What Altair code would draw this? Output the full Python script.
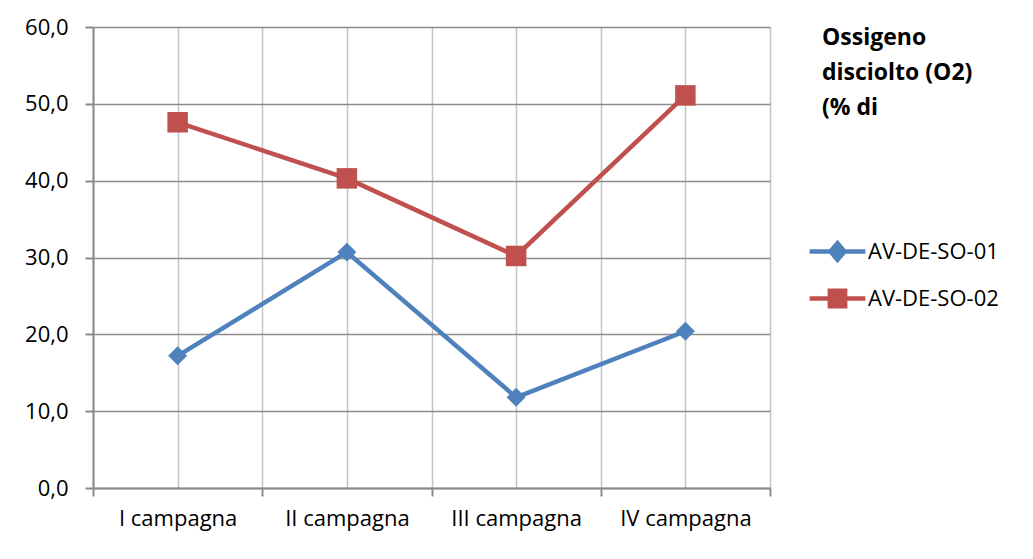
import altair as alt
import pandas as pd

categories = ["I campagna", "II campagna", "III campagna", "IV campagna"]
series_names = ["AV-DE-SO-01", "AV-DE-SO-02"]
so01 = [17.2, 30.7, 11.8, 20.4]
so02 = [47.6, 40.3, 30.2, 51.1]
y_ticks = [0, 10, 20, 30, 40, 50, 60]
legend_title = ["Ossigeno", "disciolto (O2)", "(% di"]
colors = ["#4F81BD", "#C0504D"]

rows = []
for i, c in enumerate(categories):
    rows.append({"pos": i + 1, "cat": c, "series": series_names[0], "value": so01[i]})
    rows.append({"pos": i + 1, "cat": c, "series": series_names[1], "value": so02[i]})
df = pd.DataFrame(rows)

x_values = [0.5 + 0.5 * k for k in range(2 * len(categories) + 1)]
label_expr = ""
for i, c in enumerate(categories):
    label_expr += f"datum.value == {i + 1} ? '{c}' : "
label_expr += "''"

# legend symbols: line segment with marker
diamond_path = ("M-1.24,-0.1 L-0.36,-0.1 L0,-0.52 L0.36,-0.1 L1.24,-0.1 "
                "L1.24,0.1 L0.36,0.1 L0,0.52 L-0.36,0.1 L-1.24,0.1 Z")
square_path = ("M-1.24,-0.1 L-0.44,-0.1 L-0.44,-0.44 L0.44,-0.44 L0.44,-0.1 "
               "L1.24,-0.1 L1.24,0.1 L0.44,0.1 L0.44,0.44 L-0.44,0.44 "
               "L-0.44,0.1 L-1.24,0.1 Z")

x_enc = alt.X(
    "pos:Q",
    scale=alt.Scale(domain=[0.5, 4.5], nice=False, zero=False),
    axis=alt.Axis(
        values=x_values,
        labelExpr=label_expr,
        title=None,
        grid=True,
        gridColor="#c4c4c4",
        gridWidth=1.5,
        domainColor="#8a8a8a",
        domainWidth=2,
        tickColor="#8a8a8a",
        tickWidth=2,
        tickSize=8,
        tickOpacity={"condition": {"test": "datum.value % 1 !== 0", "value": 1}, "value": 0},
        labelOverlap=False,
        labelFlush=False,
        labelPadding=12,
        labelFontSize=22,
        labelColor="#000000",
    ),
)
y_enc = alt.Y(
    "value:Q",
    scale=alt.Scale(domain=[0, 60], nice=False),
    axis=alt.Axis(
        values=y_ticks,
        format=".1f",
        labelExpr="replace(datum.label, '.', ',')",
        title=None,
        grid=True,
        gridColor="#8c8c8c",
        gridWidth=1.5,
        domainColor="#8a8a8a",
        domainWidth=2,
        tickColor="#8a8a8a",
        tickWidth=2,
        tickSize=8,
        labelPadding=17,
        labelFontSize=22,
        labelColor="#000000",
    ),
)
color_scale = alt.Scale(domain=series_names, range=colors)

base = alt.Chart(df)

lines = base.mark_line(strokeWidth=4.5).encode(
    x=x_enc, y=y_enc,
    color=alt.Color("series:N", scale=color_scale, legend=None),
    detail="series:N",
)

diamonds = base.transform_filter(
    alt.datum.series == series_names[0]
).mark_point(shape="diamond", filled=True, size=360, opacity=1).encode(
    x="pos:Q", y="value:Q",
    color=alt.Color("series:N", scale=color_scale, legend=None),
)

squares = base.transform_filter(
    alt.datum.series == series_names[1]
).mark_point(shape="square", filled=True, size=420, opacity=1).encode(
    x="pos:Q", y="value:Q",
    color=alt.Color("series:N", scale=color_scale, legend=None),
)

legend = alt.Legend(
    title=legend_title,
    orient="right",
    offset=52,
    padding=0,
    titleFont="Open Sans",
    titleFontWeight="bold",
    titleFontSize=23,
    titleLineHeight=35,
    titlePadding=109,
    titleColor="#000000",
    labelFont="Open Sans",
    labelFontSize=22,
    labelColor="#000000",
    labelOffset=8,
    symbolSize=2025,
    symbolOpacity=1,
    symbolStrokeWidth=0,
    symbolOffset=-7,
    rowPadding=12,
)

legend_layer = base.mark_point(filled=True, opacity=0).encode(
    x="pos:Q", y="value:Q",
    color=alt.Color("series:N", scale=color_scale, legend=legend),
    shape=alt.Shape("series:N", scale=alt.Scale(domain=series_names,
                                                range=[diamond_path, square_path]),
                    legend=legend),
)

chart = alt.layer(legend_layer, lines, diamonds, squares).properties(
    width=677,
    height=461,
    autosize=alt.AutoSizeParams(type="none"),
    padding={"left": 85, "top": 19, "right": 245, "bottom": 60},
    background="#ffffff",
).configure(
    font="Open Sans",
).configure_view(
    stroke=None,
)

chart.save("out.html", embed_options={"renderer": "svg", "actions": False})
